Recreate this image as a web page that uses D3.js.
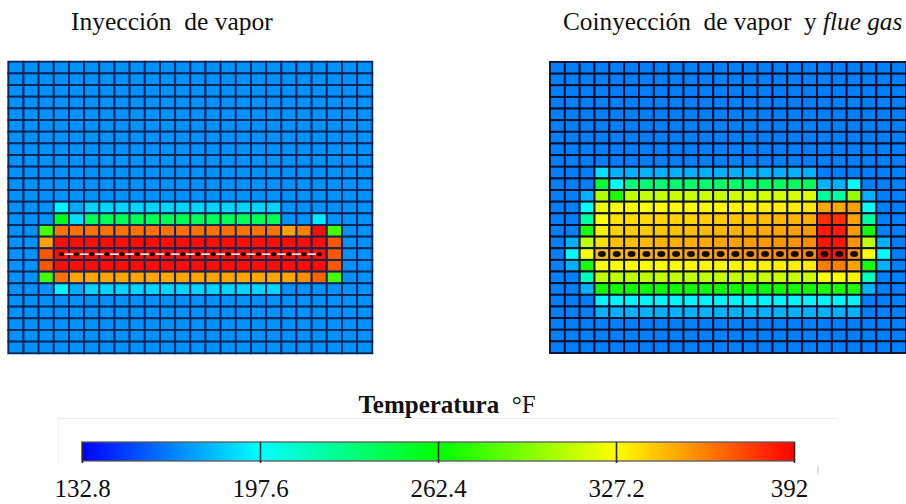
<!DOCTYPE html>
<html>
<head>
<meta charset="utf-8">
<script src="https://cdn.jsdelivr.net/npm/d3@7"></script>
<style>
  html, body { margin: 0; padding: 0; background: #ffffff; }
  svg { display: block; }
  text { font-family: "Liberation Serif", "Times New Roman", serif; fill: #111; }
</style>
</head>
<body>
<svg id="chart" width="906" height="504"></svg>
<script>
// ---------------- DATA ----------------
const panelTitles = ["Inyección  de vapor", "Coinyección  de vapor  y "];
const panelTitleItalic = ["", "flue gas"];

// colour scale stops (°F) and tick labels
const tempTicks = [132.8, 197.6, 262.4, 327.2, 392];
const tickLabels = ["132.8", "197.6", "262.4", "327.2", "392"];
const tickColors = ["#0000ff", "#00ffff", "#00ff00", "#ffff00", "#ff0000"];
const legendTitle = "Temperatura";
const legendUnit = "°F";

// well perforations (column indices, row index)
const wellColsLeft = [3,4,5,6,7,8,9,10,11,12,13,14,15,16,17,18,19,20];
const wellRowLeft = 16;
const wellColsRight = [3,4,5,6,7,8,9,10,11,12,13,14,15,16,17,18,19,20];
const wellRowRight = 16;

// temperature per cell (°F), 25 rows x 24 columns — steam injection
const gridLeft = [
 [170,170,170,170,170,170,170,170,170,170,170,170,170,170,170,170,170,170,170,170,170,170,170,170],
 [170,170,170,170,170,170,170,170,170,170,170,170,170,170,170,170,170,170,170,170,170,170,170,170],
 [170,170,170,170,170,170,170,170,170,170,170,170,170,170,170,170,170,170,170,170,170,170,170,170],
 [170,170,170,170,170,170,170,170,170,170,170,170,170,170,170,170,170,170,170,170,170,170,170,170],
 [170,170,170,170,170,170,170,170,170,170,170,170,170,170,170,170,170,170,170,170,170,170,170,170],
 [170,170,170,170,170,170,170,170,170,170,170,170,170,170,170,170,170,170,170,170,170,170,170,170],
 [170,170,170,170,170,170,170,170,170,170,170,170,170,170,170,170,170,170,170,170,170,170,170,170],
 [170,170,170,170,170,170,170,170,170,170,170,170,170,170,170,170,170,170,170,170,170,170,170,170],
 [170,170,170,170,170,170,170,170,170,170,170,170,170,170,170,170,170,170,170,170,170,170,170,170],
 [170,170,170,170,170,170,170,170,170,170,170,170,170,170,170,170,170,170,170,170,170,170,170,170],
 [170,170,170,170,170,170,170,170,170,170,170,170,170,170,170,170,170,170,170,170,170,170,170,170],
 [170,170,170,170,170,170,170,170,170,170,170,170,170,170,170,170,170,170,170,170,170,170,170,170],
 [170,170,170,195,176,187,187,187,187,187,187,187,187,187,187,187,187,187,170,170,170,170,170,170],
 [170,170,170,256,190,241,241,241,241,241,241,241,241,241,241,241,241,241,170,170,192,170,170,170],
 [170,170,280,363,363,363,363,363,363,363,363,363,363,363,363,363,363,363,351,360,388,280,170,170],
 [170,170,351,390,390,390,390,390,390,390,390,390,390,390,390,390,390,390,390,390,390,370,170,170],
 [170,170,370,390,390,390,390,390,390,390,390,390,390,390,390,390,390,390,390,390,390,370,170,170],
 [170,170,370,390,390,390,390,390,390,390,390,390,390,390,390,390,390,390,390,390,390,370,170,170],
 [170,170,280,363,350,350,350,350,350,350,350,350,350,350,350,350,350,350,350,356,367,280,170,170],
 [170,170,170,195,176,187,187,187,187,187,187,187,187,187,187,187,187,187,170,170,170,170,170,170],
 [170,170,170,170,170,170,170,170,170,170,170,170,170,170,170,170,170,170,170,170,170,170,170,170],
 [170,170,170,170,170,170,170,170,170,170,170,170,170,170,170,170,170,170,170,170,170,170,170,170],
 [170,170,170,170,170,170,170,170,170,170,170,170,170,170,170,170,170,170,170,170,170,170,170,170],
 [170,170,170,170,170,170,170,170,170,170,170,170,170,170,170,170,170,170,170,170,170,170,170,170],
 [170,170,170,170,170,170,170,170,170,170,170,170,170,170,170,170,170,170,170,170,170,170,170,170]
];

// temperature per cell (°F), 25 rows x 24 columns — steam + flue gas co-injection
const gridRight = [
 [165,165,165,165,165,165,165,165,165,165,165,165,165,165,165,165,165,165,165,165,165,165,165,165],
 [165,165,165,165,165,165,165,165,165,165,165,165,165,165,165,165,165,165,165,165,165,165,165,165],
 [165,165,165,165,165,165,165,165,165,165,165,165,165,165,165,165,165,165,165,165,165,165,165,165],
 [165,165,165,165,165,165,165,165,165,165,165,165,165,165,165,165,165,165,165,165,165,165,165,165],
 [165,165,165,165,165,165,165,165,165,165,165,165,165,165,165,165,165,165,165,165,165,165,165,165],
 [165,165,165,165,165,165,165,165,165,165,165,165,165,165,165,165,165,165,165,165,165,165,165,165],
 [165,165,165,165,165,165,165,165,165,165,165,165,165,165,165,165,165,165,165,165,165,165,165,165],
 [165,165,165,165,165,165,165,165,165,165,165,165,165,165,165,165,165,165,165,165,165,165,165,165],
 [165,165,165,165,165,165,165,165,165,165,165,165,165,165,165,165,165,165,165,165,165,165,165,165],
 [165,165,165,190,178,178,178,178,178,178,178,178,178,178,178,178,178,178,165,165,165,165,165,165],
 [165,165,165,250,197,233,233,234,234,235,235,236,236,237,237,238,239,240,178,178,197,165,165,165],
 [165,165,178,307,270,311,312,312,313,313,314,314,315,315,316,316,317,318,222,222,300,178,165,165],
 [165,165,197,323,327,327,327,328,328,328,329,329,330,330,331,331,332,333,349,349,351,197,165,165],
 [165,165,222,327,335,336,337,338,338,339,340,341,342,343,344,345,346,347,380,380,351,222,165,165],
 [165,165,268,331,339,340,341,342,343,344,345,346,347,348,349,350,351,352,384,384,353,268,165,165],
 [165,178,311,335,343,344,345,346,347,348,349,350,351,352,353,354,355,356,386,386,355,311,178,165],
 [165,197,327,344,345,346,347,348,349,350,351,352,353,354,355,356,357,358,387,387,355,327,197,165],
 [165,178,268,327,327,327,328,328,328,329,329,329,330,330,330,331,331,332,360,360,351,268,178,165],
 [165,165,215,311,311,311,311,312,312,312,312,313,313,313,313,314,314,314,327,327,330,215,165,165],
 [165,165,178,265,265,265,265,265,265,265,265,265,265,265,265,265,265,265,270,270,270,178,165,165],
 [165,165,165,195,195,195,195,195,195,195,195,195,195,195,195,195,195,195,195,195,195,165,165,165],
 [165,165,165,178,178,178,178,178,178,178,178,178,178,178,178,178,178,178,178,178,178,165,165,165],
 [165,165,165,165,165,165,165,165,165,165,165,165,165,165,165,165,165,165,165,165,165,165,165,165],
 [165,165,165,165,165,165,165,165,165,165,165,165,165,165,165,165,165,165,165,165,165,165,165,165],
 [165,165,165,165,165,165,165,165,165,165,165,165,165,165,165,165,165,165,165,165,165,165,165,165]
];

// ---------------- DRAWING ----------------
const svg = d3.select("#chart");
const color = d3.scaleLinear().domain(tempTicks).range(tickColors).interpolate(d3.interpolateRgb).clamp(true);

const defs = svg.append("defs");
const blur = defs.append("filter").attr("id", "soft").attr("x", "-2%").attr("y", "-2%").attr("width", "104%").attr("height", "104%");
blur.append("feGaussianBlur").attr("stdDeviation", 0.55);

function drawGrid(grid, box, lineColor, well, dotStyle) {
  const nRows = grid.length, nCols = grid[0].length;
  const x = d3.scaleBand().domain(d3.range(nCols)).range([box.x0, box.x1]).padding(0);
  const y = d3.scaleBand().domain(d3.range(nRows)).range([box.y0, box.y1]).padding(0);
  const g = svg.append("g").attr("filter", "url(#soft)");
  const cells = [];
  grid.forEach((row, r) => row.forEach((v, c) => cells.push({ r, c, v })));
  g.selectAll("rect.cell").data(cells).join("rect")
    .attr("class", "cell")
    .attr("x", d => x(d.c)).attr("y", d => y(d.r))
    .attr("width", x.bandwidth()).attr("height", y.bandwidth())
    .attr("fill", d => color(d.v))
    .attr("stroke", lineColor).attr("stroke-width", 1.9);

  const cx = c => x(c) + x.bandwidth() / 2;
  const cy = y(well.row) + y.bandwidth() / 2;
  if (dotStyle.dash) {
    const segs = d3.pairs(well.cols);
    g.selectAll("line.dash").data(segs).join("line")
      .attr("x1", d => cx(d[0]) + 3.2).attr("x2", d => cx(d[1]) - 3.2)
      .attr("y1", cy).attr("y2", cy)
      .attr("stroke", "#f4f4f4").attr("stroke-width", 1.6);
  }
  g.selectAll("ellipse.dot").data(well.cols).join("ellipse")
    .attr("cx", d => cx(d)).attr("cy", cy)
    .attr("rx", dotStyle.rx).attr("ry", dotStyle.ry)
    .attr("fill", "#0a0a0a");
}

drawGrid(gridLeft, { x0: 8.3, x1: 372.3, y0: 61.7, y1: 353.3 }, "#0c2654",
  { cols: wellColsLeft, row: wellRowLeft }, { rx: 2.6, ry: 2.1, dash: true });
drawGrid(gridRight, { x0: 550, x1: 906, y0: 62, y1: 353 }, "#0a1026",
  { cols: wellColsRight, row: wellRowRight }, { rx: 4, ry: 3, dash: false });

// panel titles
svg.append("text").attr("x", 71).attr("y", 30).attr("font-size", 25.5)
  .style("white-space", "pre").text(panelTitles[0]);
const t2 = svg.append("text").attr("x", 563).attr("y", 30).attr("font-size", 25.3).style("white-space", "pre");
t2.append("tspan").text(panelTitles[1]);
t2.append("tspan").attr("font-style", "italic").text(panelTitleItalic[1]);

// ---------------- COLOUR BAR ----------------
const bar = { x0: 82, x1: 794, y0: 442, h: 19 };
const xb = d3.scaleLinear().domain([tempTicks[0], tempTicks[tempTicks.length - 1]]).range([bar.x0, bar.x1]);

const grad = defs.append("linearGradient").attr("id", "cbar").attr("x1", "0%").attr("x2", "100%");
grad.selectAll("stop").data(tempTicks).join("stop")
  .attr("offset", d => ((xb(d) - bar.x0) / (bar.x1 - bar.x0) * 100) + "%")
  .attr("stop-color", d => color(d));

// faint frame artefacts around the bar
svg.append("line").attr("x1", 58).attr("x2", 837).attr("y1", 418.5).attr("y2", 418.5)
  .attr("stroke", "#ececec").attr("stroke-width", 1);
svg.append("line").attr("x1", 58.5).attr("x2", 58.5).attr("y1", 418).attr("y2", 464)
  .attr("stroke", "#f0f0f0").attr("stroke-width", 1);
svg.append("line").attr("x1", 818).attr("x2", 818).attr("y1", 466).attr("y2", 474)
  .attr("stroke", "#c8c8c8").attr("stroke-width", 1.2);

svg.append("rect").attr("x", bar.x0).attr("y", bar.y0)
  .attr("width", bar.x1 - bar.x0).attr("height", bar.h)
  .attr("fill", "url(#cbar)").attr("stroke", "#5a5a5a").attr("stroke-width", 1.3);

const axis = d3.axisBottom(xb).tickValues(tempTicks)
  .tickFormat((d, i) => tickLabels[i]).tickSize(bar.h + 2).tickPadding(16);
const ax = svg.append("g").attr("transform", `translate(0,${bar.y0})`).call(axis);
ax.select(".domain").remove();
ax.selectAll(".tick line").attr("stroke", "#2a2a2a").attr("stroke-width", 1.6);
ax.selectAll(".tick text").attr("font-size", 25)
  .attr("font-family", "'Liberation Serif', 'Times New Roman', serif").attr("fill", "#111");
ax.selectAll(".tick text").filter((d, i) => i === tempTicks.length - 1).attr("dx", -5);

// legend title
const lt = svg.append("text").attr("x", 447).attr("y", 413).attr("text-anchor", "middle")
  .attr("font-size", 25).style("white-space", "pre");
lt.append("tspan").attr("font-weight", "bold").text(legendTitle);
lt.append("tspan").text("  " + legendUnit);
</script>
</body>
</html>
